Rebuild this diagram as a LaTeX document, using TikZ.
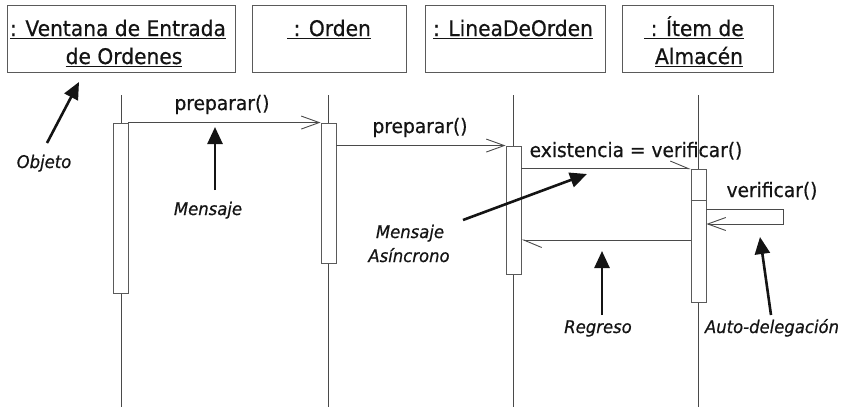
\documentclass[tikz,border=0pt]{standalone}
\usepackage{fontspec}
\setmainfont{DejaVu Sans}[FakeStretch=0.94, FakeBold=0.6]
\usetikzlibrary{arrows.meta}

\definecolor{ink}{HTML}{141414}
\definecolor{rule}{HTML}{4A4A4A}
\definecolor{frame}{HTML}{5A5A5A}

% underline with a slightly heavier rule
\newcommand{\thickul}[1]{\setbox0\hbox{#1}\rlap{\raisebox{-3.2pt}{\rule{\wd0}{1.5pt}}}\box0}

\tikzset{
  objbox/.style={draw=frame, line width=0.9pt, minimum height=67pt, inner sep=0pt},
  objtext/.style={anchor=base, inner sep=0pt, text=ink, font=\fontsize{21.5}{24}\selectfont},
  msgtext/.style={anchor=base, inner sep=0pt, text=ink, font=\fontsize{19.8}{23}\selectfont},
  notetext/.style={anchor=base, inner sep=0pt, text=ink, font=\fontsize{17.5}{21}\selectfont\itshape},
  lifeline/.style={draw=rule, line width=0.9pt},
  actbar/.style={draw=frame, fill=white, line width=0.9pt, minimum width=15pt, inner sep=0pt},
  msg/.style={draw=rule, line width=0.9pt, -{Straight Barb[length=18pt, width=13pt, line width=0.9pt]}},
  asyncmsg/.style={draw=rule, line width=0.9pt, -{Straight Barb[left, length=18pt, width=15pt, line width=0.9pt]}},
  note/.style={draw=ink, line width=2.6pt, -{Triangle[length=17pt, width=15pt]}},
}

\begin{document}
\begin{tikzpicture}[x=1pt, y=-1pt]
  \useasboundingbox (0,0) rectangle (841,408);

  % object boxes
  \node[objbox, minimum width=228pt] (ventana) at (121,38.5) {};
  \node[objbox, minimum width=154pt] (orden)   at (329,38.5) {};
  \node[objbox, minimum width=180pt] (linea)   at (515,38.5) {};
  \node[objbox, minimum width=151pt] (item)    at (697.5,38.5) {};

  \node[objtext] (ventana-a) at (118,36) {\thickul{: Ventana de Entrada}};
  \node[objtext] (ventana-b) at (124,64) {\thickul{de Ordenes}};
  \node[objtext] (orden-a)   at (329,36) {\thickul{\ : Orden}};
  \node[objtext] (linea-a)   at (513,36) {\thickul{: LineaDeOrden}};
  \node[objtext] (item-a)    at (694,36) {\thickul{\ : Ítem de}};
  \node[objtext] (item-b)    at (699,64) {\thickul{Almacén}};

  % lifelines
  \coordinate (end1) at (121,407);
  \coordinate (end2) at (328,407);
  \coordinate (end3) at (513.5,407);
  \coordinate (end4) at (698.5,407);
  \draw[lifeline] (121,95) coordinate (top1) -- (end1);
  \draw[lifeline] (328,95) coordinate (top2) -- (end2);
  \draw[lifeline] (513.5,95) coordinate (top3) -- (end3);
  \draw[lifeline] (698.5,95) coordinate (top4) -- (end4);

  % activation bars
  \node[actbar, minimum height=170pt] (bar1) at (120.5,208) {};
  \node[actbar, minimum height=140pt] (bar2) at (328.5,193) {};
  \node[actbar, minimum height=128pt] (bar3) at (513.5,210) {};
  \node[actbar, minimum height=133pt] (bar4) at (698.5,235.5) {};
  \draw[frame, line width=0.9pt] (bar4.west |- 0,200) coordinate (split) -- (bar4.east |- split);

  % messages
  \draw[msg] (bar1.north east) -- (bar2.north west);
  \node[msgtext] (m1) at (222,110) {preparar()};

  \draw[msg] (bar2.east |- bar3.north) -- (bar3.north west);
  \node[msgtext] (m2) at (420,133) {preparar()};

  \draw[asyncmsg] (bar3.east |- bar4.north) -- (bar4.north west);
  \node[msgtext] (m3) at (636,157) {existencia = verificar()};

  \coordinate (self-a) at (783,209);
  \coordinate (self-b) at (783,224);
  \draw[msg] (bar4.east |- self-a) -- (self-a) -- (self-b) -- (bar4.east |- self-b);
  \node[msgtext] (m4) at (772,197) {verificar()};

  \coordinate (ret) at (600,240);
  \draw[asyncmsg] (bar4.west |- ret) -- (bar3.east |- ret);

  % annotations
  \node[notetext] (objeto) at (44,168) {Objeto};
  \coordinate (objeto-tail) at (47,143);
  \coordinate (objeto-tip) at (79,82);
  \draw[note] (objeto-tail) -- (objeto-tip);

  \node[notetext] (mensaje) at (208,215) {Mensaje};
  \coordinate (mensaje-tail) at (215,190);
  \coordinate (mensaje-tip) at (215,127);
  \draw[note] (mensaje-tail) -- (mensaje-tip);

  \node[notetext] (asinc-a) at (410,238) {Mensaje};
  \node[notetext] (asinc-b) at (409,262) {Asíncrono};
  \coordinate (asinc-tail) at (463,220);
  \coordinate (asinc-tip) at (587,174);
  \draw[note] (asinc-tail) -- (asinc-tip);

  \node[notetext] (regreso) at (598,333) {Regreso};
  \coordinate (regreso-tail) at (602,315);
  \coordinate (regreso-tip) at (602,251);
  \draw[note] (regreso-tail) -- (regreso-tip);

  \node[notetext] (auto) at (772,333) {Auto-delegación};
  \coordinate (auto-tail) at (771,315);
  \coordinate (auto-tip) at (760,237);
  \draw[note] (auto-tail) -- (auto-tip);
\end{tikzpicture}
\end{document}
